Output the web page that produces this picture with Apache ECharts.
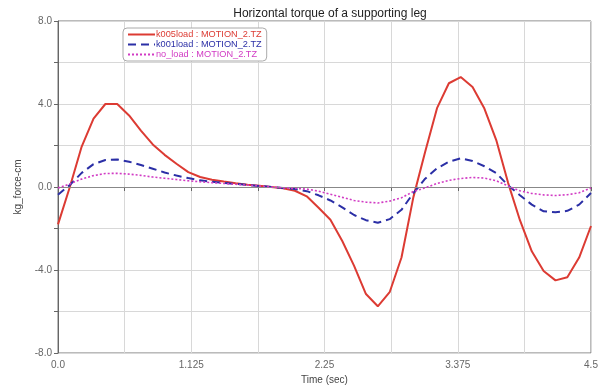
<!DOCTYPE html>
<html>
<head>
<meta charset="utf-8">
<script src="https://cdn.jsdelivr.net/npm/echarts@6/dist/echarts.min.js"></script>
<style>
  html, body { margin: 0; padding: 0; background: #fff; }
  #chart { width: 606px; height: 390px; }
</style>
</head>
<body>
<div id="chart"></div>
<script>
// sample times (sec)
const times = [0.0, 0.1, 0.2, 0.3, 0.4, 0.5, 0.6, 0.7, 0.8, 0.9,
  1.0, 1.1, 1.2, 1.3, 1.4, 1.5, 1.6, 1.7, 1.8, 1.9,
  2.0, 2.1, 2.2, 2.3, 2.4, 2.5, 2.6, 2.7, 2.8, 2.9,
  3.0, 3.1, 3.2, 3.3, 3.4, 3.5, 3.6, 3.7, 3.8, 3.9,
  4.0, 4.1, 4.2, 4.3, 4.4, 4.5];

const k005load = [-1.8, 0.0, 1.95, 3.3, 4.0, 4.0, 3.45, 2.72, 2.05, 1.55,
  1.12, 0.72, 0.48, 0.35, 0.26, 0.18, 0.11, 0.06, 0.0, -0.06,
  -0.18, -0.45, -1.0, -1.58, -2.6, -3.8, -5.16, -5.75, -5.07, -3.4,
  -0.5, 1.7, 3.8, 5.0, 5.3, 4.82, 3.78, 2.26, 0.2, -1.6,
  -3.1, -4.05, -4.5, -4.35, -3.4, -1.88];

const k001load = [-0.37, 0.1, 0.68, 1.1, 1.3, 1.33, 1.22, 1.06, 0.88, 0.7,
  0.55, 0.43, 0.32, 0.25, 0.2, 0.15, 0.1, 0.05, 0.0, -0.05,
  -0.1, -0.2, -0.4, -0.65, -0.98, -1.35, -1.6, -1.72, -1.55, -1.1,
  -0.3, 0.4, 0.9, 1.22, 1.38, 1.25, 1.0, 0.67, 0.08, -0.4,
  -0.85, -1.17, -1.22, -1.15, -0.85, -0.29];

const noLoad = [-0.05, 0.15, 0.38, 0.55, 0.65, 0.66, 0.62, 0.56, 0.48, 0.42,
  0.36, 0.3, 0.25, 0.21, 0.17, 0.13, 0.09, 0.05, 0.0, -0.04,
  -0.07, -0.1, -0.2, -0.35, -0.5, -0.65, -0.73, -0.77, -0.68, -0.52,
  -0.22, -0.04, 0.17, 0.32, 0.41, 0.46, 0.43, 0.3, 0.05, -0.18,
  -0.31, -0.38, -0.41, -0.37, -0.28, -0.05];

const seriesNames = ['k005load : MOTION_2.TZ', 'k001load : MOTION_2.TZ', 'no_load : MOTION_2.TZ'];
const seriesColors = ['#dc3b33', '#2b2fa6', '#d13bc4'];
const xTickLabels = ['0.0', '1.125', '2.25', '3.375', '4.5'];
const yTickLabels = ['-8.0', '-4.0', '0.0', '4.0', '8.0'];

const pairs = (ys) => times.map((t, i) => [t, ys[i]]);

const chart = echarts.init(document.getElementById('chart'), null, { renderer: 'canvas' });
const font = 'Liberation Sans, Arial, sans-serif';

chart.setOption({
  animation: false,
  textStyle: { fontFamily: font },
  title: {
    text: 'Horizontal torque of a supporting leg',
    left: 325,
    textAlign: 'center',
    top: 3,
    textStyle: { fontSize: 12, fontWeight: 'normal', color: '#222', fontFamily: font }
  },
  legend: {
    orient: 'vertical',
    left: 123,
    top: 28,
    backgroundColor: '#fff',
    borderColor: '#aaa',
    borderWidth: 1,
    borderRadius: 4,
    padding: [2, 5, 2, 4],
    itemGap: 1,
    itemWidth: 27,
    itemHeight: 8,
    itemStyle: { opacity: 0 },
    textStyle: { fontSize: 9.2, padding: [0, 0, 0, -4] },
    data: seriesNames.map((n, i) => ({ name: n, textStyle: { color: seriesColors[i] } }))
  },
  grid: {
    left: 58, right: 15, top: 21, bottom: 35,
    show: true,
    borderColor: '#777',
    borderWidth: 1
  },
  xAxis: {
    type: 'value',
    min: 0, max: 4.5, interval: 0.5625,
    name: 'Time (sec)',
    nameLocation: 'middle',
    nameGap: 22,
    nameTextStyle: { fontSize: 10, color: '#444' },
    axisLine: { show: true, lineStyle: { color: '#666' } },
    axisTick: { show: true, length: 4, lineStyle: { color: '#666' } },
    axisLabel: {
      fontSize: 10, color: '#666', margin: 7,
      formatter: (v, i) => (i % 2 === 0 ? xTickLabels[i / 2] : '')
    },
    splitLine: { show: true, lineStyle: { color: '#d8d8d8' } }
  },
  yAxis: {
    type: 'value',
    min: -8, max: 8, interval: 2,
    name: 'kg_force-cm',
    nameLocation: 'middle',
    nameGap: 35,
    nameTextStyle: { fontSize: 10, color: '#444' },
    axisLine: { show: true, lineStyle: { color: '#666' } },
    axisTick: { show: true, length: 4, lineStyle: { color: '#666' } },
    axisLabel: {
      fontSize: 10, color: '#666', margin: 6,
      formatter: (v, i) => (i % 2 === 0 ? yTickLabels[i / 2] : '')
    },
    splitLine: { show: true, lineStyle: { color: '#d8d8d8' } }
  },
  series: [
    {
      name: seriesNames[0], type: 'line', symbol: 'none', data: pairs(k005load),
      color: seriesColors[0], lineStyle: { width: 2, color: seriesColors[0] },
      markLine: {
        silent: true, symbol: 'none', label: { show: false },
        lineStyle: { color: '#888', width: 1, type: 'solid' },
        data: [{ yAxis: 0 }]
      },
      z: 3
    },
    {
      name: seriesNames[1], type: 'line', symbol: 'none', data: pairs(k001load),
      color: seriesColors[1], lineStyle: { width: 2, color: seriesColors[1], type: [8, 5] },
      z: 4
    },
    {
      name: seriesNames[2], type: 'line', symbol: 'none', data: pairs(noLoad),
      color: seriesColors[2], lineStyle: { width: 1.6, color: seriesColors[2], type: [2, 2] },
      z: 5
    }
  ]
});
</script>
</body>
</html>
